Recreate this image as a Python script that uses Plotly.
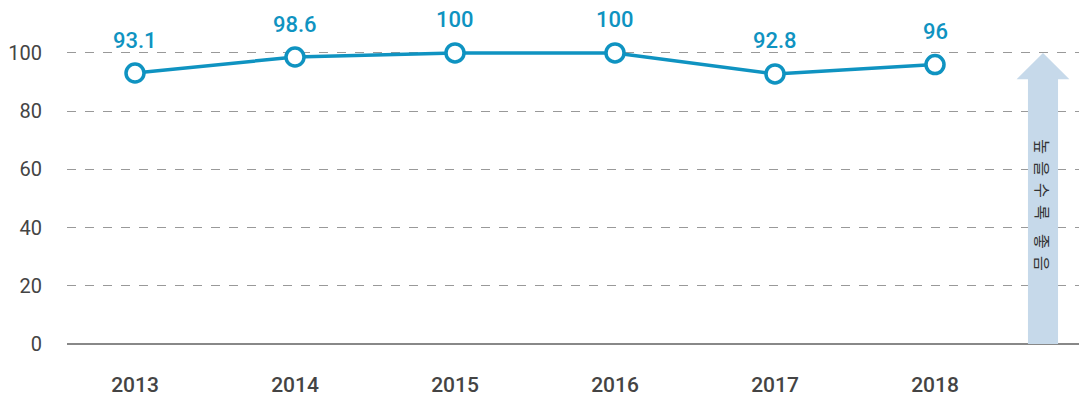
import plotly.graph_objects as go

years = ["2013", "2014", "2015", "2016", "2017", "2018"]
values = [93.1, 98.6, 100, 100, 92.8, 96]
labels = ["93.1", "98.6", "100", "100", "92.8", "96"]
y_ticks = [0, 20, 40, 60, 80, 100]
arrow_text = "높  을  수  록    좋  음"

blue = "#0f93c1"
xs = list(range(len(years)))

fig = go.Figure()
fig.add_trace(go.Scatter(
    x=xs, y=values, mode="lines+markers",
    line=dict(color=blue, width=3.5),
    marker=dict(size=18, color="white", line=dict(color=blue, width=3.5)),
    cliponaxis=False, hoverinfo="skip", showlegend=False,
))
for x, v, t in zip(xs, values, labels):
    fig.add_annotation(x=x, y=v, text=t, showarrow=False, yshift=33, borderpad=0,
                       font=dict(family="Roboto, sans-serif", size=22, color=blue, weight=500))

# arrow
ax = 5.675
fig.add_shape(type="path", xref="x", yref="y",
              path=f"M {ax-0.094} 0 L {ax-0.094} 91 L {ax-0.165} 91 L {ax} 100 L {ax+0.165} 91 L {ax+0.094} 91 L {ax+0.094} 0 Z",
              fillcolor="#c6d9ea", line=dict(width=0), layer="above")
fig.add_annotation(x=ax, y=48, text=arrow_text, textangle=90, showarrow=False,
                   font=dict(family="Noto Sans CJK KR", size=16, color="#333"))

fig.update_layout(
    width=1079, height=394,
    margin=dict(l=59, r=0, t=33, b=58, autoexpand=False),
    paper_bgcolor="white", plot_bgcolor="white",
    xaxis=dict(range=[-0.425, 5.95], tickvals=xs, ticktext=years, showgrid=False,
               zeroline=False, showline=False, ticks="", automargin=False,
               tickfont=dict(family="Roboto, sans-serif", size=21, color="#444", weight=500),
               ticklabelstandoff=26),
    yaxis=dict(range=[0, 104.1], tickvals=y_ticks, showgrid=True, gridcolor="#999",
               griddash="dash", gridwidth=1, zeroline=True, zerolinecolor="#888",
               zerolinewidth=1.5, ticks="", automargin=False,
               tickfont=dict(family="Roboto, sans-serif", size=20, color="#444"),
               ticklabelstandoff=24),
)
fig.write_html("out.html")
